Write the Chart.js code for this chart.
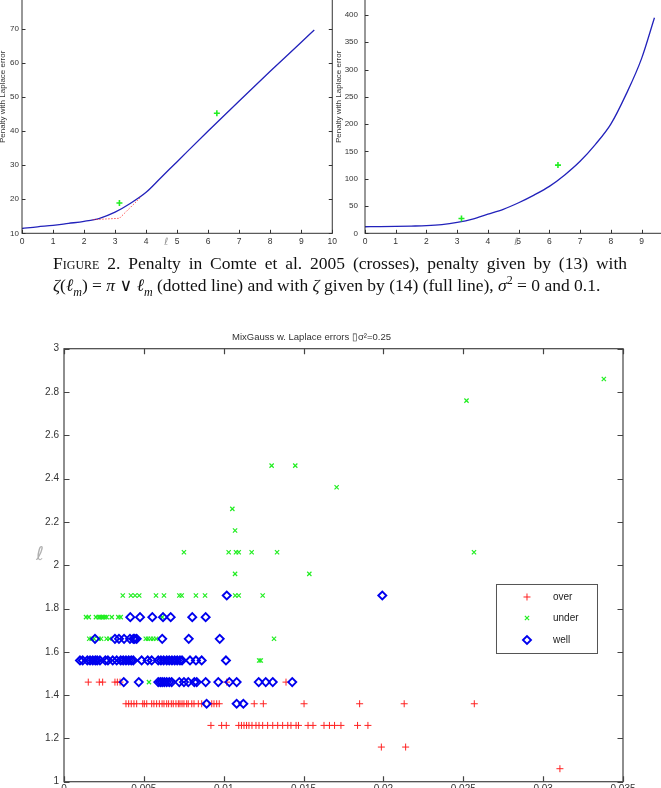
<!DOCTYPE html>
<html>
<head>
<meta charset="utf-8">
<script src="https://cdn.jsdelivr.net/npm/chart.js@4.4.1/dist/chart.umd.min.js"></script>
<style>
  html, body { margin:0; padding:0; background:#fff; }
  #page { position:relative; width:661px; height:788px; overflow:hidden; background:#fff; }
  canvas { position:absolute; }
  #cLeft { left:-3px; top:-60px; }
  #cRight { left:330px; top:-60px; }
  #cScatter { left:0; top:320px; }
  .cap { position:absolute; left:53px; width:574px; font-family:"Liberation Serif","DejaVu Serif",serif;
         font-size:17.5px; line-height:20px; color:#111; }
  #cap1 { top:253px; text-align:justify; text-align-last:justify; }
  #cap2 { top:275px; white-space:nowrap; }
  .cap sub, .cap sup { font-size:12px; line-height:0; }
  .sc { font-variant:small-caps; }
  .ell { position:absolute; font-family:"DejaVu Sans",sans-serif; font-style:italic; color:#999; }
</style>
</head>
<body>
<div id="page">
  <canvas id="cLeft" width="343" height="315"></canvas>
  <canvas id="cRight" width="350" height="315"></canvas>
  <span class="ell" style="left:164px;top:236px;font-size:10px;">ℓ</span>
  <span class="ell" style="left:514px;top:236px;font-size:10px;">ℓ</span>
  <div class="cap" id="cap1"><span class="sc">Figure</span> 2. Penalty in Comte et al. 2005 (crosses), penalty given by (13) with</div>
  <div class="cap" id="cap2"><i>ζ</i>(<i>ℓ</i><sub><i>m</i></sub>) = <i>π</i> ∨ <i>ℓ</i><sub><i>m</i></sub> (dotted line) and with <i>ζ</i> given by (14) (full line), <i>σ</i><sup>2</sup> = 0 and 0.1.</div>
  <canvas id="cScatter" width="661" height="490"></canvas>
  <span class="ell" style="left:36px;top:542px;font-size:19px;color:#b0b0b0;">ℓ</span>
</div>
<script>
// ---- top plots: penalty vs l_m ----
const lamLeft = [0, 0.5, 1, 1.5, 2, 2.5, 3, 3.5, 4, 4.5, 5, 6, 7, 8, 9, 9.42];
const penSig0 = [11.4, 11.9, 12.3, 12.9, 13.5, 14.4, 16.2, 18.8, 22, 26.5, 31, 40, 48.8, 57.5, 66, 69.6];
const dotLam = [2.3, 2.7, 3.14, 3.85];
const dotSig0 = [14.0, 14.2, 14.4, 20.8];
const comteLam = [3.14, 6.28];
const comteSig0 = [18.9, 45.2];

const lamRight = [0, 0.5, 1, 1.5, 2, 2.5, 3, 3.5, 4, 4.5, 5, 5.5, 6, 6.5, 7, 7.5, 8, 8.5, 9, 9.42];
const penSig01 = [12, 12.2, 12.6, 13.2, 14, 16, 20, 26, 35, 44, 56, 70, 86, 107, 132, 163, 200, 255, 320, 395];
const comteSig01 = [27, 125];

// ---- bottom scatter: [x, y] per class ----
const overPts = [
  [0.00152,1.46],[0.00221,1.46],[0.00242,1.46],[0.00319,1.46],[0.00334,1.46],[0.00351,1.46],[0.01019,1.46],[0.0139,1.46],
  [0.00388,1.36],[0.00405,1.36],[0.00421,1.36],[0.00438,1.36],[0.00455,1.36],[0.00493,1.36],[0.00503,1.36],[0.00518,1.36],
  [0.00549,1.36],[0.00563,1.36],[0.0058,1.36],[0.00597,1.36],[0.00614,1.36],[0.00626,1.36],[0.00643,1.36],[0.00655,1.36],
  [0.00672,1.36],[0.00684,1.36],[0.00701,1.36],[0.00716,1.36],[0.00726,1.36],[0.00739,1.36],[0.00751,1.36],[0.00768,1.36],
  [0.00778,1.36],[0.008,1.36],[0.00814,1.36],[0.00841,1.36],[0.00862,1.36],[0.00925,1.36],[0.00939,1.36],[0.00956,1.36],
  [0.00972,1.36],[0.01191,1.36],[0.01248,1.36],[0.01503,1.36],[0.01851,1.36],[0.0213,1.36],[0.02569,1.36],
  [0.0092,1.26],[0.00987,1.26],[0.01016,1.26],[0.01094,1.26],[0.01111,1.26],[0.01127,1.26],[0.01143,1.26],[0.01158,1.26],
  [0.01177,1.26],[0.01202,1.26],[0.01221,1.26],[0.01244,1.26],[0.01275,1.26],[0.01307,1.26],[0.01338,1.26],[0.01369,1.26],
  [0.01401,1.26],[0.01421,1.26],[0.01453,1.26],[0.01468,1.26],[0.01528,1.26],[0.01559,1.26],[0.01628,1.26],[0.01662,1.26],
  [0.01694,1.26],[0.01734,1.26],[0.01838,1.26],[0.01903,1.26],
  [0.01987,1.16],[0.02139,1.16],
  [0.03105,1.06]
];
const underPts = [
  [0.0338,2.86],[0.0252,2.76],[0.013,2.46],[0.01448,2.46],[0.01707,2.36],[0.01054,2.26],[0.01071,2.16],
  [0.00751,2.06],[0.01031,2.06],[0.01077,2.06],[0.01094,2.06],[0.01175,2.06],[0.01334,2.06],[0.02567,2.06],
  [0.01071,1.96],[0.01536,1.96],
  [0.00368,1.86],[0.00419,1.86],[0.00445,1.86],[0.00471,1.86],[0.00576,1.86],[0.00626,1.86],[0.00722,1.86],
  [0.00737,1.86],[0.00826,1.86],[0.00883,1.86],[0.01072,1.86],[0.01094,1.86],[0.01244,1.86],
  [0.00138,1.76],[0.00155,1.76],[0.002,1.76],[0.00217,1.76],[0.00225,1.76],[0.00235,1.76],[0.00244,1.76],
  [0.00255,1.76],[0.00267,1.76],[0.00299,1.76],[0.0034,1.76],[0.00355,1.76],[0.00615,1.76],
  [0.00158,1.66],[0.00173,1.66],[0.00188,1.66],[0.00217,1.66],[0.00232,1.66],[0.00267,1.66],[0.00284,1.66],
  [0.00512,1.66],[0.00526,1.66],[0.00543,1.66],[0.00559,1.66],[0.00576,1.66],[0.01315,1.66],
  [0.01222,1.56],[0.01232,1.56],
  [0.00532,1.46]
];
const wellPts = [
  [0.01019,1.86],[0.01993,1.86],
  [0.00415,1.76],[0.00476,1.76],[0.00553,1.76],[0.0062,1.76],[0.00668,1.76],[0.00803,1.76],[0.00887,1.76],
  [0.00194,1.66],[0.00319,1.66],[0.00344,1.66],[0.00376,1.66],[0.00413,1.66],[0.00434,1.66],[0.00443,1.66],
  [0.00455,1.66],[0.00615,1.66],[0.00781,1.66],[0.00975,1.66],
  [0.001,1.56],[0.00117,1.56],[0.00146,1.56],[0.00163,1.56],[0.0018,1.56],[0.00196,1.56],[0.00208,1.56],
  [0.00225,1.56],[0.00259,1.56],[0.00275,1.56],[0.00305,1.56],[0.0033,1.56],[0.00355,1.56],[0.00371,1.56],
  [0.00388,1.56],[0.00405,1.56],[0.00421,1.56],[0.00434,1.56],[0.00486,1.56],[0.00524,1.56],[0.00549,1.56],
  [0.0059,1.56],[0.00607,1.56],[0.00624,1.56],[0.00643,1.56],[0.00659,1.56],[0.00676,1.56],[0.00693,1.56],
  [0.00709,1.56],[0.00726,1.56],[0.00739,1.56],[0.00789,1.56],[0.00826,1.56],[0.00862,1.56],[0.01014,1.56],
  [0.00374,1.46],[0.00468,1.46],[0.0059,1.46],[0.00603,1.46],[0.00615,1.46],[0.00628,1.46],[0.00643,1.46],
  [0.00659,1.46],[0.00674,1.46],[0.00722,1.46],[0.00751,1.46],[0.00778,1.46],[0.00816,1.46],[0.00831,1.46],
  [0.00887,1.46],[0.00966,1.46],[0.01035,1.46],[0.01081,1.46],[0.01219,1.46],[0.01263,1.46],[0.01307,1.46],
  [0.01429,1.46],
  [0.00893,1.36],[0.01081,1.36],[0.01123,1.36]
];

const SANS = "'Liberation Sans', Arial, sans-serif";
const tickColor = '#333';

function pairs(xs, ys) { return xs.map((x, i) => ({x, y: ys[i]})); }
function trimNum(v) { return String(Number(v.toFixed(4))); }

// matlab style box with inward ticks on all four sides
const boxTicks = {
  id: 'boxTicks',
  afterDatasetsDraw(chart, args, o) {
    const {ctx, chartArea: a, scales: {x, y}} = chart;
    const len = o.len || 4;
    ctx.save();
    ctx.strokeStyle = o.color || '#333';
    ctx.lineWidth = o.width || 1;
    ctx.beginPath();
    x.ticks.forEach(t => {
      const px = Math.round(x.getPixelForValue(t.value)) + 0.5;
      ctx.moveTo(px, a.bottom); ctx.lineTo(px, a.bottom - len);
      ctx.moveTo(px, a.top); ctx.lineTo(px, a.top + len);
    });
    y.ticks.forEach(t => {
      const py = Math.round(y.getPixelForValue(t.value)) + 0.5;
      ctx.moveTo(a.left, py); ctx.lineTo(a.left + len, py);
      ctx.moveTo(a.right, py); ctx.lineTo(a.right - len, py);
    });
    ctx.stroke();
    ctx.strokeRect(a.left, a.top, a.width, a.height);
    ctx.restore();
  }
};

function drawMark(ctx, style, x, y, r, color, lw) {
  ctx.beginPath();
  ctx.strokeStyle = color;
  ctx.lineWidth = lw;
  if (style === 'cross') {
    ctx.moveTo(x - r, y); ctx.lineTo(x + r, y);
    ctx.moveTo(x, y - r); ctx.lineTo(x, y + r);
  } else if (style === 'crossRot') {
    const d = r * Math.SQRT1_2;
    ctx.moveTo(x - d, y - d); ctx.lineTo(x + d, y + d);
    ctx.moveTo(x - d, y + d); ctx.lineTo(x + d, y - d);
  } else {
    ctx.moveTo(x - r, y); ctx.lineTo(x, y - r); ctx.lineTo(x + r, y); ctx.lineTo(x, y + r);
    ctx.closePath();
  }
  ctx.stroke();
}

// legend box drawn inside the plot area
const boxLegend = {
  id: 'boxLegend',
  afterDraw(chart, args, o) {
    const {ctx, chartArea: a} = chart;
    const bx = a.left + o.fx * a.width, by = a.top + o.fy * a.height;
    ctx.save();
    ctx.fillStyle = '#fff';
    ctx.fillRect(bx, by, o.w, o.h);
    ctx.strokeStyle = '#555';
    ctx.lineWidth = 1;
    ctx.strokeRect(bx + 0.5, by + 0.5, o.w, o.h);
    ctx.font = '10px ' + SANS;
    ctx.textBaseline = 'middle';
    chart.data.datasets.forEach((ds, i) => {
      const yy = by + o.rows[i];
      drawMark(ctx, ds.pointStyle, bx + o.markX, yy, ds.pointRadius, ds.borderColor, ds.borderWidth);
      ctx.fillStyle = '#222';
      ctx.fillText(ds.label, bx + o.textX, yy);
    });
    ctx.restore();
  }
};

function topChart(id, xs, lineY, extra, yMax, yStep, yMin, yWidth, yTitlePad, rightPad, tickPad) {
  const datasets = [
    { data: pairs(xs, lineY), showLine: true, pointRadius: 0, borderColor: '#2222bb', borderWidth: 1.3,
      tension: 0.3, cubicInterpolationMode: 'monotone', order: 2 }
  ].concat(extra);
  return new Chart(document.getElementById(id), {
    type: 'scatter',
    data: { datasets },
    options: {
      responsive: false, animation: false, devicePixelRatio: 1,
      layout: { padding: { top: 20.4, right: rightPad, left: 0, bottom: 0 } },
      plugins: { legend: { display: false }, tooltip: { enabled: false }, boxTicks: { len: 3.5, width: 1, color: '#333' } },
      scales: {
        x: {
          type: 'linear', min: 0, max: 10,
          ticks: { stepSize: 1, font: { family: SANS, size: 8.5 }, color: tickColor, padding: 3, maxRotation: 0, autoSkip: false },
          grid: { display: false, drawTicks: false }, border: { display: false },
          afterFit(s) { s.height = 21.7; }
        },
        y: {
          type: 'linear', min: yMin, max: yMax,
          ticks: { stepSize: yStep, font: { family: SANS, size: 8 }, color: tickColor, padding: tickPad, autoSkip: false },
          grid: { display: false, drawTicks: false }, border: { display: false },
          title: { display: true, text: 'Penalty with Laplace error', font: { family: SANS, size: 8 }, color: '#333',
                   padding: { top: yTitlePad, bottom: 0 } },
          afterFit(s) { s.width = yWidth; }
        }
      }
    },
    plugins: [boxTicks]
  });
}

topChart('cLeft', lamLeft, penSig0, [
  { data: pairs(dotLam, dotSig0), showLine: true, pointRadius: 0, borderColor: '#ff3030', borderWidth: 1,
    borderDash: [1.2, 1.8], order: 1 },
  { data: pairs(comteLam, comteSig0), pointStyle: 'cross', pointRadius: 3, borderColor: '#22ee22', borderWidth: 1.6, order: 0 }
], 90, 10, 10, 25, 1, 3.7, 3);

topChart('cRight', lamRight, penSig01, [
  { data: pairs(comteLam, comteSig01), pointStyle: 'cross', pointRadius: 3, borderColor: '#22ee22', borderWidth: 1.6, order: 0 }
], 500, 50, 0, 35, 4, 7.6, 7);

// ---- bottom scatter ----
new Chart(document.getElementById('cScatter'), {
  type: 'scatter',
  data: {
    datasets: [
      { label: 'over', data: overPts.map(p => ({x: p[0], y: p[1]})), pointStyle: 'cross', pointRadius: 3.5,
        borderColor: '#ff2222', borderWidth: 1, order: 3 },
      { label: 'under', data: underPts.map(p => ({x: p[0], y: p[1]})), pointStyle: 'crossRot', pointRadius: 3,
        borderColor: '#22ee22', borderWidth: 1.2, order: 2 },
      { label: 'well', data: wellPts.map(p => ({x: p[0], y: p[1]})), pointStyle: 'rectRot', pointRadius: 4,
        borderColor: '#0000ee', backgroundColor: 'rgba(0,0,0,0)', borderWidth: 1.9, order: 1 }
    ]
  },
  options: {
    responsive: false, animation: false, devicePixelRatio: 1,
    layout: { padding: { left: 0, right: 38, top: 0, bottom: 0 } },
    plugins: {
      legend: { display: false },
      tooltip: { enabled: false },
      title: { display: true, text: 'MixGauss w. Laplace errors \u25AFσ²=0.25', color: '#333',
               font: { family: SANS, size: 9.5, weight: 'normal', lineHeight: 1.2 }, padding: { top: 11.3, bottom: 6 } },
      boxTicks: { len: 5.5, width: 1.2, color: '#444' },
      boxLegend: { fx: 0.7728, fy: 0.5434, w: 101, h: 69, markX: 31, textX: 57, rows: [13, 34, 56] }
    },
    scales: {
      x: {
        type: 'linear', min: 0, max: 0.035,
        ticks: { stepSize: 0.005, callback: v => trimNum(v), font: { family: SANS, size: 10 }, color: tickColor,
                 padding: 2, maxRotation: 0, autoSkip: false },
        grid: { display: false, drawTicks: false }, border: { display: false },
        afterFit(s) { s.height = 28.3; }
      },
      y: {
        type: 'linear', min: 1, max: 3,
        ticks: { stepSize: 0.2, callback: v => trimNum(v), font: { family: SANS, size: 10 }, color: tickColor,
                 padding: 5, autoSkip: false },
        grid: { display: false, drawTicks: false }, border: { display: false },
        afterFit(s) { s.width = 64; }
      }
    }
  },
  plugins: [boxTicks, boxLegend]
});
</script>
</body>
</html>
